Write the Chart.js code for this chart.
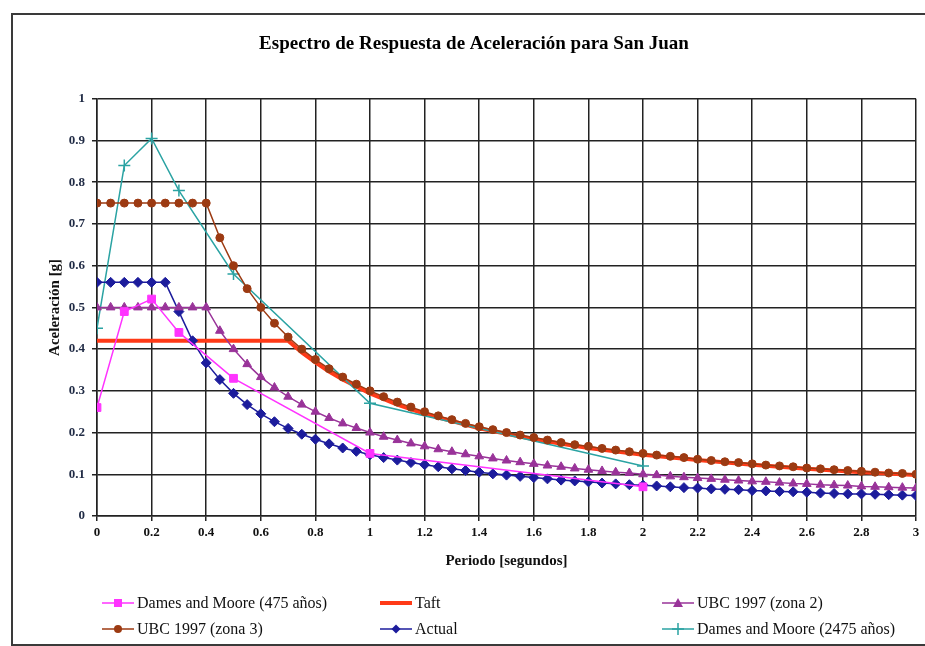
<!DOCTYPE html>
<html lang="es">
<head>
<meta charset="UTF-8">
<title>Espectro de Respuesta de Aceleración para San Juan</title>
<style>
  html, body { margin: 0; padding: 0; background: #fff; overflow: hidden; }
  .frame {
    position: absolute; left: 11px; top: 13px;
    width: 1000px; height: 629px;
    border: 2px solid #3a3a3a; border-right: none;
  }
  #wrap { position: absolute; left: 0; top: 0; width: 925px; height: 646px; }
  .legend-item {
    position: absolute; display: flex; align-items: center; height: 20px;
    font-family: "Liberation Serif", "Times New Roman", serif;
    font-size: 16px; color: #111; white-space: nowrap;
  }
  .legend-item svg { margin-right: 3px; }
</style>
</head>
<body>
<div class="frame"></div>
<div id="wrap"><canvas id="chart"></canvas></div>
<div id="legend"></div>

<script src="https://cdn.jsdelivr.net/npm/chart.js"></script>
<script>
// ---- datos ----
const dm475Periodo = [0, 0.1, 0.2, 0.3, 0.5, 1.0, 2.0];
const dm475Acel    = [0.26, 0.49, 0.52, 0.44, 0.33, 0.15, 0.07];

const dm2475Periodo = [0, 0.1, 0.2, 0.3, 0.5, 1.0, 2.0];
const dm2475Acel    = [0.45, 0.84, 0.905, 0.78, 0.58, 0.27, 0.12];

const taftPeriodo = [0, 0.7, 0.75, 0.8, 0.85, 0.9, 1.0, 1.1, 1.2, 1.4, 1.6, 1.8, 2.0, 2.2, 2.4, 2.6, 2.8, 3.0];
const taftAcel    = [0.42, 0.42, 0.392, 0.368, 0.346, 0.327, 0.294, 0.267, 0.245, 0.21, 0.184, 0.163, 0.147, 0.134, 0.123, 0.113, 0.105, 0.098];

// periodos comunes de las curvas UBC y Actual
const periodos = [
  0, 0.05, 0.1, 0.15, 0.2, 0.25, 0.3, 0.35, 0.4, 0.45,
  0.5, 0.55, 0.6, 0.65, 0.7, 0.75, 0.8, 0.85, 0.9, 0.95,
  1.0, 1.05, 1.1, 1.15, 1.2, 1.25, 1.3, 1.35, 1.4, 1.45,
  1.5, 1.55, 1.6, 1.65, 1.7, 1.75, 1.8, 1.85, 1.9, 1.95,
  2.0, 2.05, 2.1, 2.15, 2.2, 2.25, 2.3, 2.35, 2.4, 2.45,
  2.5, 2.55, 2.6, 2.65, 2.7, 2.75, 2.8, 2.85, 2.9, 2.95, 3.0
];
const ubcZona2 = [
  0.5, 0.5, 0.5, 0.5, 0.5, 0.5, 0.5, 0.5, 0.5, 0.444,
  0.400, 0.364, 0.333, 0.308, 0.286, 0.267, 0.250, 0.235, 0.222, 0.211,
  0.200, 0.190, 0.182, 0.174, 0.167, 0.160, 0.154, 0.148, 0.143, 0.138,
  0.133, 0.129, 0.125, 0.121, 0.118, 0.114, 0.111, 0.108, 0.105, 0.103,
  0.100, 0.098, 0.095, 0.093, 0.091, 0.089, 0.087, 0.085, 0.083, 0.082,
  0.080, 0.078, 0.077, 0.075, 0.074, 0.073, 0.071, 0.070, 0.069, 0.068, 0.067
];
const ubcZona3 = [
  0.75, 0.75, 0.75, 0.75, 0.75, 0.75, 0.75, 0.75, 0.75, 0.667,
  0.600, 0.545, 0.500, 0.462, 0.429, 0.400, 0.375, 0.353, 0.333, 0.316,
  0.300, 0.286, 0.273, 0.261, 0.250, 0.240, 0.231, 0.222, 0.214, 0.207,
  0.200, 0.194, 0.188, 0.182, 0.176, 0.171, 0.167, 0.162, 0.158, 0.154,
  0.150, 0.146, 0.143, 0.140, 0.136, 0.133, 0.130, 0.128, 0.125, 0.122,
  0.120, 0.118, 0.115, 0.113, 0.111, 0.109, 0.107, 0.105, 0.103, 0.102, 0.100
];
const actual = [
  0.56, 0.56, 0.56, 0.56, 0.56, 0.56, 0.49, 0.42, 0.367, 0.327,
  0.294, 0.267, 0.245, 0.226, 0.210, 0.196, 0.184, 0.173, 0.163, 0.155,
  0.147, 0.140, 0.134, 0.128, 0.123, 0.118, 0.113, 0.109, 0.105, 0.101,
  0.098, 0.095, 0.092, 0.089, 0.086, 0.084, 0.082, 0.079, 0.077, 0.075,
  0.074, 0.072, 0.070, 0.068, 0.067, 0.065, 0.064, 0.063, 0.061, 0.060,
  0.059, 0.058, 0.057, 0.055, 0.054, 0.053, 0.053, 0.052, 0.051, 0.050, 0.049
];

const xTicks = [0, 0.2, 0.4, 0.6, 0.8, 1, 1.2, 1.4, 1.6, 1.8, 2, 2.2, 2.4, 2.6, 2.8, 3];
const yTicks = [0, 0.1, 0.2, 0.3, 0.4, 0.5, 0.6, 0.7, 0.8, 0.9, 1];

const serif = '"Liberation Serif", "Times New Roman", serif';

function pts(xs, ys) {
  return xs.map((x, i) => ({ x: x, y: ys[i] }));
}

function serie(label, xs, ys, color, style, radius, extra) {
  return Object.assign({
    label: label,
    data: pts(xs, ys),
    borderColor: color,
    backgroundColor: color,
    borderWidth: 1.5,
    pointStyle: style,
    pointRadius: radius,
    pointBorderWidth: 1,
    tension: 0
  }, extra || {});
}

const datasets = [
  serie('Dames and Moore (475 años)', dm475Periodo, dm475Acel, '#ff33ff', 'rect', 5.5),
  serie('Taft', taftPeriodo, taftAcel, '#ff3a17', false, 0, { borderWidth: 4, order: 5 }),
  serie('UBC 1997 (zona 2)', periodos, ubcZona2, '#993399', 'triangle', 5),
  serie('UBC 1997 (zona 3)', periodos, ubcZona3, '#9c3a12', 'circle', 4),
  serie('Actual', periodos, actual, '#1c1c9c', 'rectRot', 5),
  serie('Dames and Moore (2475 años)', dm2475Periodo, dm2475Acel, '#2ba3a3', 'cross', 6, { pointBorderWidth: 1.5 })
];

const gridCfg = { color: '#222', lineWidth: 1.5, tickLength: 5 };

const chart = new Chart(document.getElementById('chart'), {
  type: 'line',
  data: { datasets: datasets },
  options: {
    responsive: true,
    maintainAspectRatio: false,
    animation: false,
    layout: { padding: { left: 32, right: 9, top: 0, bottom: 73 } },
    plugins: {
      legend: { display: false },
      tooltip: { enabled: false },
      title: {
        display: true,
        text: 'Espectro de Respuesta de Aceleración para San Juan',
        color: '#000',
        font: { family: serif, size: 19, weight: 'bold' },
        padding: { top: 33, bottom: 43 }
      }
    },
    scales: {
      x: {
        type: 'linear',
        min: 0, max: 3,
        afterFit: s => { s.height = 57; },
        afterBuildTicks: s => { s.ticks = xTicks.map(v => ({ value: v })); },
        ticks: {
          color: '#111', padding: 4, maxRotation: 0, autoSkip: false,
          font: { family: serif, size: 13, weight: 'bold' },
          callback: v => String(Math.round(v * 10) / 10)
        },
        grid: gridCfg,
        border: { color: '#222', width: 1.5 },
        title: {
          display: true, text: 'Periodo [segundos]', color: '#111',
          font: { family: serif, size: 15, weight: 'bold' },
          padding: { top: 0, bottom: 3 }
        }
      },
      y: {
        min: 0, max: 1,
        afterFit: s => { s.width = 65; },
        afterBuildTicks: s => { s.ticks = yTicks.map(v => ({ value: v })); },
        ticks: {
          color: '#1f2a44', padding: 7,
          font: { family: serif, size: 13, weight: 'bold' },
          callback: v => String(Math.round(v * 10) / 10)
        },
        grid: gridCfg,
        border: { color: '#222', width: 1.5 },
        title: {
          display: true, text: 'Aceleración [g]', color: '#111',
          font: { family: serif, size: 15, weight: 'bold' },
          padding: { top: 14, bottom: 0 }
        }
      }
    }
  }
});

// ---- leyenda en 2 filas x 3 columnas ----
const legCols = [102, 380, 662];
const legRows = [603, 629];

function swatch(ds) {
  const c = ds.borderColor;
  let m = '';
  switch (ds.pointStyle) {
    case 'rect': m = `<rect x="12" y="4" width="8" height="8" fill="${c}"/>`; break;
    case 'triangle': m = `<polygon points="16,3 21,12 11,12" fill="${c}"/>`; break;
    case 'circle': m = `<circle cx="16" cy="8" r="4" fill="${c}"/>`; break;
    case 'rectRot': m = `<polygon points="16,3.5 20.5,8 16,12.5 11.5,8" fill="${c}"/>`; break;
    case 'cross': m = `<path d="M16 2V14M10 8H22" stroke="${c}" stroke-width="1.5"/>`; break;
  }
  return `<svg width="32" height="16"><line x1="0" y1="8" x2="32" y2="8" stroke="${c}" stroke-width="${ds.borderWidth}"/>${m}</svg>`;
}

const legend = document.getElementById('legend');
chart.data.datasets.forEach((ds, i) => {
  const item = document.createElement('div');
  item.className = 'legend-item';
  item.style.left = legCols[i % 3] + 'px';
  item.style.top = (legRows[Math.floor(i / 3)] - 10) + 'px';
  item.innerHTML = swatch(ds) + '<span>' + ds.label + '</span>';
  legend.appendChild(item);
});
</script>
</body>
</html>
